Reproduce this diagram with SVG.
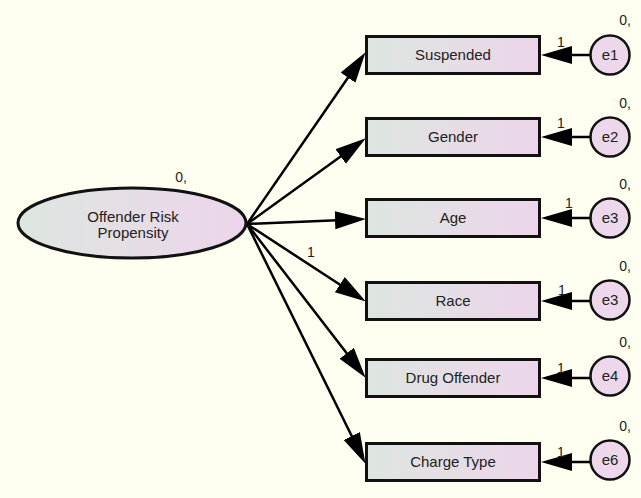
<svg xmlns="http://www.w3.org/2000/svg" width="641" height="498" viewBox="0 0 641 498">
<defs>
<linearGradient id="gr" x1="0" y1="0" x2="1" y2="0">
<stop offset="0" stop-color="#dde6e0"/>
<stop offset="1" stop-color="#edd5eb"/>
</linearGradient>
<marker id="ah" markerUnits="userSpaceOnUse" markerWidth="33" markerHeight="19" refX="20" refY="9" orient="auto">
<path d="M0,0 L31,9 L0,18 z" fill="#000"/>
</marker>
<style>
.box{fill:url(#gr);stroke:#111;stroke-width:3}
.lat{fill:url(#gr);stroke:#111;stroke-width:3}
.err{fill:#ecd8ea;stroke:#111;stroke-width:2.5}
.t{font-family:"Liberation Sans",Arial,sans-serif;font-size:15px;fill:#222;text-anchor:middle}
.e{font-family:"Liberation Sans",Arial,sans-serif;font-size:15px;fill:#222;text-anchor:middle}
.s{font-family:"Liberation Sans",Arial,sans-serif;font-size:14px;fill:#222;text-anchor:middle}
.c line{stroke:#000;stroke-width:2.5;marker-end:url(#ah)}
</style>
</defs>
<rect width="641" height="498" fill="#fefff0"/>

<g id="connectors" class="c">
<line x1="247" y1="224" x2="359.3" y2="61.2"/>
<line x1="247" y1="224" x2="356.9" y2="144.8"/>
<line x1="247" y1="224" x2="355.0" y2="219.4"/>
<line x1="247" y1="224" x2="356.6" y2="295.5"/>
<line x1="247" y1="224" x2="358.9" y2="369.1"/>
<line x1="247" y1="224" x2="360.6" y2="454.0"/>
<line x1="590" y1="55" x2="552" y2="55"/>
<line x1="590" y1="137" x2="552" y2="137"/>
<line x1="590" y1="218" x2="552" y2="218"/>
<line x1="590" y1="301" x2="552" y2="301"/>
<line x1="590" y1="378" x2="552" y2="378"/>
<line x1="590" y1="462" x2="552" y2="462"/>
<text class="s" x="311" y="257">1</text>
<text class="s" x="561" y="47">1</text>
<text class="s" x="561" y="128">1</text>
<text class="s" x="569" y="208">1</text>
<text class="s" x="562" y="295">1</text>
<text class="s" x="561" y="373">1</text>
<text class="s" x="561" y="457">1</text>
</g>

<g id="latent">
<ellipse class="lat" cx="132" cy="223" rx="114" ry="35"/>
<text class="t" x="133" y="222">Offender Risk</text>
<text class="t" x="133" y="238">Propensity</text>
<text class="s" x="181" y="182">0,</text>
</g>

<g id="suspended"><rect class="box" x="366.5" y="36.5" width="173" height="37"/><text class="t" x="453" y="60">Suspended</text></g>
<g id="gender"><rect class="box" x="366.5" y="118.5" width="173" height="37"/><text class="t" x="453" y="142">Gender</text></g>
<g id="age"><rect class="box" x="366.5" y="199.5" width="173" height="37"/><text class="t" x="453" y="223">Age</text></g>
<g id="race"><rect class="box" x="366.5" y="282.5" width="173" height="37"/><text class="t" x="453" y="306">Race</text></g>
<g id="drug"><rect class="box" x="366.5" y="359.5" width="173" height="37"/><text class="t" x="453" y="383">Drug Offender</text></g>
<g id="charge"><rect class="box" x="366.5" y="443.5" width="173" height="37"/><text class="t" x="453" y="467">Charge Type</text></g>

<g id="e1"><circle class="err" cx="610" cy="55" r="19.5"/><text class="e" x="610" y="60">e1</text><text class="s" x="625" y="25">0,</text></g>
<g id="e2"><circle class="err" cx="610" cy="137" r="19.5"/><text class="e" x="610" y="142">e2</text><text class="s" x="625" y="108">0,</text></g>
<g id="e3a"><circle class="err" cx="610" cy="218" r="19.5"/><text class="e" x="610" y="223">e3</text><text class="s" x="625" y="189">0,</text></g>
<g id="e3b"><circle class="err" cx="610" cy="300" r="19.5"/><text class="e" x="610" y="305">e3</text><text class="s" x="625" y="271">0,</text></g>
<g id="e4"><circle class="err" cx="610" cy="376" r="19.5"/><text class="e" x="610" y="381">e4</text><text class="s" x="625" y="347">0,</text></g>
<g id="e6"><circle class="err" cx="610" cy="460" r="19.5"/><text class="e" x="610" y="465">e6</text><text class="s" x="625" y="431">0,</text></g>
</svg>
